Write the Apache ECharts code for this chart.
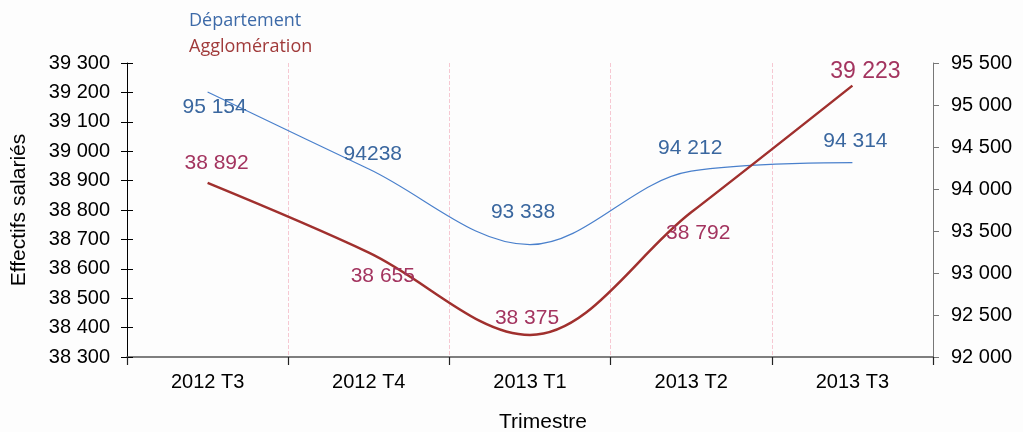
<!DOCTYPE html>
<html>
<head>
<meta charset="utf-8">
<script src="https://cdn.jsdelivr.net/npm/echarts@6/dist/echarts.min.js"></script>
<style>
  html, body { margin: 0; padding: 0; background: #fdfdfd; }
  #chart { width: 1023px; height: 432px; }
</style>
</head>
<body>
<div id="chart"></div>
<script>
// données
const trimestres = ['2012 T3', '2012 T4', '2013 T1', '2013 T2', '2013 T3'];
const departement = [95154, 94238, 93338, 94212, 94314];
const agglomeration = [38892, 38655, 38375, 38792, 39223];
// libellés tels qu'affichés sur le graphique
const departementLabels = ['95 154', '94238', '93 338', '94 212', '94 314'];
const agglomerationLabels = ['38 892', '38 655', '38 375', '38 792', '39 223'];

const depOffsets = [[7, 15], [4, -15], [-7, -32], [-1, -23], [3, -21]];
const aggOffsets = [[9, -20], [14, 24], [-3, -17], [7, 21], [13, -14]];

const fmt = v => String(v).replace(/\B(?=(\d{3})+(?!\d))/g, ' ');
const font = 'Liberation Sans, Arial, sans-serif';

const chart = echarts.init(document.getElementById('chart'));

const option = {
  backgroundColor: '#fdfdfd',
  animation: false,
  textStyle: { fontFamily: font },
  legend: {
    orient: 'vertical',
    left: 178,
    top: 7,
    itemWidth: 0,
    itemHeight: 0,
    itemGap: 8,
    selectedMode: false,
    data: [
      { name: 'Département', textStyle: { color: '#3d6aa8' } },
      { name: 'Agglomération', textStyle: { color: '#a03a3a' } }
    ],
    textStyle: { fontSize: 18, fontFamily: 'Open Sans, sans-serif' }
  },
  grid: { left: 127, right: 90, top: 63, bottom: 75, outerBoundsMode: 'none' },
  xAxis: {
    type: 'category',
    data: trimestres,
    boundaryGap: true,
    name: 'Trimestre',
    nameLocation: 'middle',
    nameGap: 55,
    nameTextStyle: { fontSize: 21, color: '#000', padding: [0, 0, 0, 26] },
    axisLine: { lineStyle: { color: '#555', width: 1.5 } },
    axisTick: { show: true, length: 8, lineStyle: { color: '#222', width: 1.2 } },
    axisLabel: { fontSize: 20, color: '#000', margin: 15 },
    splitLine: { show: true, lineStyle: { color: '#f6c8d2', type: 'dashed' } }
  },
  yAxis: [
    {
      type: 'value',
      position: 'left',
      min: 38300,
      max: 39300,
      interval: 100,
      name: 'Effectifs salariés',
      nameLocation: 'middle',
      nameGap: 97,
      nameTextStyle: { fontSize: 21, color: '#000' },
      axisLine: { show: true, lineStyle: { color: '#000' } },
      axisTick: { show: true, length: 6, lineStyle: { color: '#000' } },
      axisLabel: { fontSize: 20, color: '#000', margin: 17, formatter: fmt },
      splitLine: { show: false }
    },
    {
      type: 'value',
      position: 'right',
      min: 92000,
      max: 95500,
      interval: 500,
      axisLine: { show: true, lineStyle: { color: '#777' } },
      axisTick: { show: true, length: 6, lineStyle: { color: '#777' } },
      axisLabel: { fontSize: 20, color: '#000', margin: 18, formatter: fmt },
      splitLine: { show: false }
    },
    {
      // graduations intérieures de l'axe gauche (traits qui croisent l'axe)
      type: 'value',
      position: 'left',
      min: 38300,
      max: 39300,
      interval: 100,
      axisLine: { show: false },
      axisTick: { show: true, inside: true, length: 6, lineStyle: { color: '#000' } },
      axisLabel: { show: false },
      splitLine: { show: false }
    }
  ],
  series: [
    {
      name: 'Département',
      type: 'line',
      yAxisIndex: 1,
      smooth: 0.35,
      symbol: 'circle',
      symbolSize: 0,
      showSymbol: true,
      lineStyle: { color: '#4a80cc', width: 1.2 },
      itemStyle: { color: '#4a80cc' },
      data: departement.map((v, i) => ({
        value: v,
        label: {
          show: true,
          position: 'inside',
          offset: depOffsets[i],
          formatter: departementLabels[i],
          color: '#3a679f',
          fontSize: 21
        }
      }))
    },
    {
      name: 'Agglomération',
      type: 'line',
      yAxisIndex: 0,
      smooth: 0.35,
      symbol: 'circle',
      symbolSize: 0,
      showSymbol: true,
      lineStyle: { color: '#a0302e', width: 2.5 },
      itemStyle: { color: '#a0302e' },
      data: agglomeration.map((v, i) => ({
        value: v,
        label: {
          show: true,
          position: 'inside',
          offset: aggOffsets[i],
          formatter: agglomerationLabels[i],
          color: '#a3345f',
          fontSize: i === 4 ? 23 : 21
        }
      }))
    }
  ]
};

chart.setOption(option);
</script>
</body>
</html>
